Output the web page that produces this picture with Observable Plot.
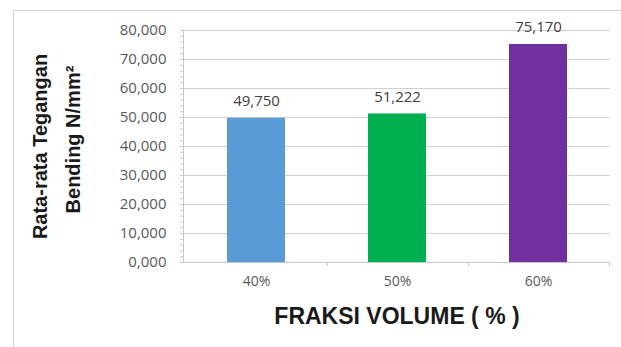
<!DOCTYPE html>
<html>
<head>
<meta charset="utf-8">
<script src="https://cdn.jsdelivr.net/npm/d3@7"></script>
<script src="https://cdn.jsdelivr.net/npm/@observablehq/plot@0.6"></script>
<style>
  html, body { margin: 0; padding: 0; background: #fff; }
  #wrap { position: relative; width: 621px; height: 347px; overflow: hidden; }
  #frame { position: absolute; left: 13px; top: 10px; width: 640px; height: 360px; border: 1px solid #d4d4d4; box-sizing: border-box; pointer-events: none; }
</style>
</head>
<body>
<div id="wrap"><div id="frame"></div><div id="chart"></div></div>
<script>
const categories = ["40%", "50%", "60%"];
const values = [49.750, 51.222, 75.170];
const colors = ["#5b9bd5", "#00b050", "#7030a0"];
const yTicks = [0, 10, 20, 30, 40, 50, 60, 70, 80];
const yTitle1 = "Rata-rata Tegangan";
const yTitle2 = "Bending N/mm²";
const xTitle = "FRAKSI VOLUME ( % )";

const fmt = v => v.toFixed(3).replace(".", ",");
const data = categories.map((c, i) => ({cat: c, value: values[i], color: colors[i]}));
const minorTicks = d3.range(0, 80.001, 2);
const titleFont = "'Liberation Sans Narrow', 'Liberation Sans', Arial, sans-serif";
const labelFont = "'Open Sans', Lato, sans-serif";

const chart = Plot.plot({
  width: 621,
  height: 347,
  marginLeft: 183,
  marginRight: 11,
  marginTop: 30,
  marginBottom: 85,
  style: {fontFamily: labelFont, fontSize: "15px", color: "#595959", background: "transparent"},
  x: {domain: categories, paddingInner: 0.59, paddingOuter: 0.3},
  y: {domain: [0, 80]},
  marks: [
    Plot.gridY(yTicks, {stroke: "#d0d0d0", strokeOpacity: 1}),
    Plot.frame({anchor: "left", stroke: "#c8c8c8"}),
    Plot.axisY(minorTicks, {tickSize: 3, text: null, stroke: "#c8c8c8", label: null}),
    Plot.axisY(yTicks, {tickFormat: fmt, tickSize: 0, tickPadding: 17, fontSize: 15, fill: "#595959", label: null}),
    Plot.barY(data, {x: "cat", y: "value", fill: "color"}),
    Plot.ruleY([0], {stroke: "#c8c8c8"}),
    Plot.ruleX(categories, {x: d => d, dx: 71, y1: 0, y2: 0, insetBottom: -4, stroke: "#c8c8c8"}),
    Plot.axisX({tickSize: 0, tickPadding: 14, fontSize: 14, fill: "#595959", label: null}),
    Plot.text(data, {x: "cat", y: "value", text: d => fmt(d.value), dy: -17, fontSize: 15, fill: "#404040"}),
    Plot.text([yTitle1], {y: [40], frameAnchor: "left", textAnchor: "middle", dx: -143, rotate: -90, fontSize: 20, fontWeight: "bold", fill: "#1a1a1a", fontFamily: titleFont}),
    Plot.text([yTitle2], {y: [42.4], frameAnchor: "left", textAnchor: "middle", dx: -110, rotate: -90, fontSize: 20, fontWeight: "bold", fill: "#1a1a1a", fontFamily: titleFont}),
    Plot.text([xTitle], {frameAnchor: "bottom", dy: 61, fontSize: 23, fontWeight: "bold", fill: "#1a1a1a", fontFamily: titleFont})
  ]
});
document.getElementById("chart").appendChild(chart);
</script>
</body>
</html>
